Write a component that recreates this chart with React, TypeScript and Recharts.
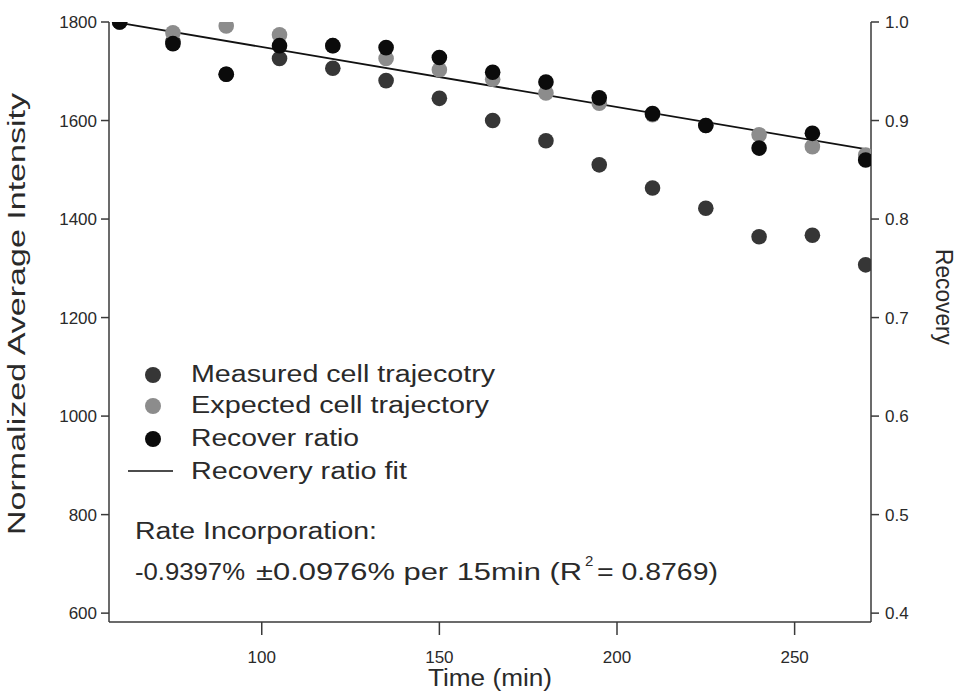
import {
  ComposedChart,
  Scatter,
  Line,
  XAxis,
  YAxis,
  Legend,
} from 'recharts';

// sampling times (min)
const times = [60, 75, 90, 105, 120, 135, 150, 165, 180, 195, 210, 225, 240, 255, 270];
// normalized average intensity, left axis
const measured = [1800, 1760, 1694, 1726, 1706, 1681, 1645, 1600, 1559, 1510, 1463, 1422, 1364, 1367, 1307];
const expected = [1800, 1778, 1792, 1774, 1752, 1726, 1703, 1684, 1656, 1635, 1612, 1590, 1571, 1547, 1530];
// recovery ratio, right axis
const recover = [1.0, 0.978, 0.947, 0.976, 0.976, 0.974, 0.964, 0.949, 0.939, 0.923, 0.907, 0.895, 0.872, 0.887, 0.86];
// linear fit end points
const fitTimes = [60, 270];
const fitValues = [0.999, 0.871];

const xTicks = [100, 150, 200, 250];
const leftTicks = [600, 800, 1000, 1200, 1400, 1600, 1800];
const rightTicks = [0.4, 0.5, 0.6, 0.7, 0.8, 0.9, 1.0];

const seriesNames = [
  'Measured cell trajecotry',
  'Expected cell trajectory',
  'Recover ratio',
  'Recovery ratio fit',
];

const measuredData = times.map((t, i) => ({ t, v: measured[i] }));
const expectedData = times.map((t, i) => ({ t, v: expected[i] }));
const recoverData = times.map((t, i) => ({ t, r: recover[i] }));
const fitData = fitTimes.map((t, i) => ({ t, r: fitValues[i] }));

const FONT = '"Liberation Sans", Arial, sans-serif';
const AXIS = '#3a3a3a';
const TEXT = '#2a2a2a';

const dot = (fill: string) => (props: any) => (
  <circle cx={props.cx} cy={props.cy} r={7.8} fill={fill} />
);

const LegendBox = () => {
  const colors = ['#363636', '#8c8c8c', '#0b0b0b'];
  const baselines = [382, 413, 446, 479];
  const widths = [304, 298, 168, 216];
  return (
    <svg width={962} height={692} style={{ position: 'absolute', left: 0, top: 0 }}>
      {seriesNames.map((name, i) => (
        <g key={name}>
          {i < 3 ? (
            <circle cx={153} cy={baselines[i] - 7} r={8} fill={colors[i]} />
          ) : (
            <line x1={128} x2={173} y1={baselines[i] - 8} y2={baselines[i] - 8} stroke="#111" strokeWidth={1.5} />
          )}
          <text
            x={191}
            y={baselines[i]}
            fontFamily={FONT}
            fontSize={23}
            fill={TEXT}
            textLength={widths[i]}
            lengthAdjust="spacingAndGlyphs"
          >
            {name}
          </text>
        </g>
      ))}
      <text x={135} y={539} fontFamily={FONT} fontSize={23} fill={TEXT} textLength={242} lengthAdjust="spacingAndGlyphs">
        Rate Incorporation:
      </text>
      <text x={135} y={580} fontFamily={FONT} fontSize={23} fill={TEXT} textLength={110} lengthAdjust="spacingAndGlyphs">
        -0.9397%
      </text>
      <text x={256} y={580} fontFamily={FONT} fontSize={23} fill={TEXT} textLength={326} lengthAdjust="spacingAndGlyphs">
        ±0.0976% per 15min (R
      </text>
      <text x={585} y={566} fontFamily={FONT} fontSize={15} fill={TEXT}>
        2
      </text>
      <text x={597} y={580} fontFamily={FONT} fontSize={23} fill={TEXT} textLength={121} lengthAdjust="spacingAndGlyphs">
        = 0.8769)
      </text>
    </svg>
  );
};

const LeftLabel = (props: any) => {
  const { viewBox } = props;
  const cy = viewBox.y + viewBox.height / 2;
  return (
    <text
      x={25}
      y={cy - 8}
      transform={`rotate(-90, 25, ${cy - 8})`}
      textAnchor="middle"
      fontFamily={FONT}
      fontSize={23}
      fill={TEXT}
      textLength={442}
      lengthAdjust="spacingAndGlyphs"
    >
      Normalized Average Intensity
    </text>
  );
};

const RightLabel = (props: any) => {
  const { viewBox } = props;
  const cy = viewBox.y + viewBox.height / 2;
  return (
    <text
      x={936}
      y={cy - 25}
      transform={`rotate(90, 936, ${cy - 25})`}
      textAnchor="middle"
      fontFamily={FONT}
      fontSize={23}
      fill={TEXT}
      textLength={96}
      lengthAdjust="spacingAndGlyphs"
    >
      Recovery
    </text>
  );
};

const BottomLabel = (props: any) => {
  const { viewBox } = props;
  return (
    <text
      x={490}
      y={viewBox.y + 64}
      textAnchor="middle"
      fontFamily={FONT}
      fontSize={23}
      fill={TEXT}
      textLength={124}
      lengthAdjust="spacingAndGlyphs"
    >
      Time (min)
    </text>
  );
};

const tickStyle = { fontFamily: FONT, fontSize: 17, fill: TEXT };

export default function App() {
  return (
    <div style={{ position: 'absolute', left: 0, top: 0, width: 962, height: 692, background: '#fff' }}>
      <ComposedChart width={962} height={692} margin={{ top: 22, right: 0, bottom: 0, left: 0 }}>
        <XAxis
          type="number"
          dataKey="t"
          domain={[57, 271.5]}
          ticks={xTicks}
          height={70}
          tickSize={13}
          tickMargin={16}
          stroke={AXIS}
          strokeWidth={1.5}
          tick={tickStyle}
          allowDataOverflow
          label={<BottomLabel />}
        />
        <YAxis
          yAxisId="left"
          type="number"
          domain={[582, 1800]}
          ticks={leftTicks}
          width={109}
          tickSize={8}
          tickMargin={4}
          stroke={AXIS}
          strokeWidth={1.5}
          tick={tickStyle}
          allowDataOverflow
          label={<LeftLabel />}
        />
        <YAxis
          yAxisId="right"
          orientation="right"
          type="number"
          domain={[0.391, 1.0]}
          ticks={rightTicks}
          tickFormatter={(v: number) => v.toFixed(1)}
          width={91}
          tickSize={8}
          tickMargin={6}
          stroke={AXIS}
          strokeWidth={1.5}
          tick={tickStyle}
          allowDataOverflow
          label={<RightLabel />}
        />
        <Scatter
          yAxisId="left"
          data={measuredData}
          dataKey="v"
          name={seriesNames[0]}
          shape={dot('#363636')}
          isAnimationActive={false}
        />
        <Scatter
          yAxisId="left"
          data={expectedData}
          dataKey="v"
          name={seriesNames[1]}
          shape={dot('#8c8c8c')}
          isAnimationActive={false}
        />
        <Line
          yAxisId="right"
          data={fitData}
          dataKey="r"
          name={seriesNames[3]}
          type="linear"
          stroke="#111"
          strokeWidth={1.8}
          dot={false}
          activeDot={false}
          isAnimationActive={false}
        />
        <Scatter
          yAxisId="right"
          data={recoverData}
          dataKey="r"
          name={seriesNames[2]}
          shape={dot('#0b0b0b')}
          isAnimationActive={false}
        />
        <Legend
          layout="vertical"
          align="center"
          verticalAlign="middle"
          wrapperStyle={{ left: 0, top: 0, width: 962, height: 692, pointerEvents: 'none' }}
          content={() => <LegendBox />}
        />
      </ComposedChart>
    </div>
  );
}
